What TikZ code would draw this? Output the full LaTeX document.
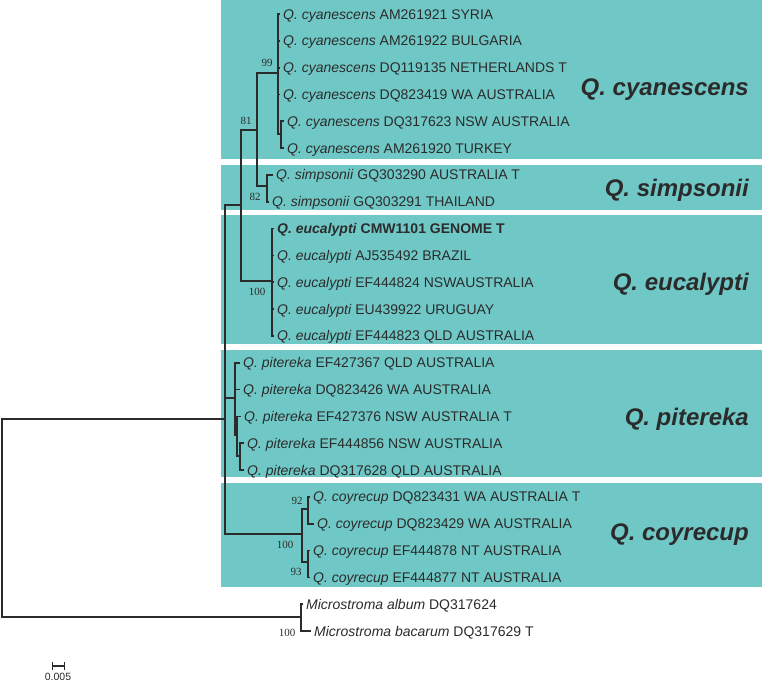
\documentclass[tikz,border=0pt]{standalone}
\usepackage{fontspec}
\setmainfont{Liberation Sans}
\newfontfamily\bootfont{Liberation Serif}
\usepackage{tikz}
\usetikzlibrary{positioning,arrows.meta}
\definecolor{cladeteal}{RGB}{112,200,198}
\definecolor{treeink}{RGB}{43,43,43}
\newcommand{\taxon}[1]{\textit{#1}}

\begin{document}
\begin{tikzpicture}[x=1pt,y=-1pt,
    branch/.style={treeink, line width=2.7pt, line cap=rect},
    twig/.style={treeink, line width=1.7pt, line cap=rect},
    leaf/.style={inner sep=0pt, text=treeink, text height=10pt, text depth=0pt, font=\fontsize{14}{16}\selectfont},
    boot/.style={inner sep=0pt, text=treeink, font=\bootfont\fontsize{11}{12}\selectfont},
    clade/.style={inner sep=0pt, anchor=east, text=treeink, text height=17pt, text depth=0pt, font=\fontsize{24}{28}\selectfont\bfseries\itshape}]
    \useasboundingbox (0,0) rectangle (763,683);
    % Clade boxes
    \fill[cladeteal] (221,0) rectangle (762,159);
    \fill[cladeteal] (221,165) rectangle (762,210);
    \fill[cladeteal] (221,215) rectangle (762,344);
    \fill[cladeteal] (221,350) rectangle (762,477);
    \fill[cladeteal] (221,483) rectangle (762,587);
    % Internal nodes
    \coordinate (root) at (2,419);
    \coordinate (ing) at (225,419);
    \coordinate (n81) at (241,205);
    \coordinate (n99) at (257,130);
    \coordinate (cyan) at (278,73);
    \coordinate (cyb) at (281,134);
    \coordinate (simp) at (267,186);
    \coordinate (euc) at (272,281);
    \coordinate (pit) at (235,398);
    \coordinate (pitb) at (237,435);
    \coordinate (pitc) at (240,456);
    \coordinate (coy) at (302,534);
    \coordinate (coya) at (308,509);
    \coordinate (coyb) at (308,562);
    \coordinate (micro) at (301,617);
    % Backbone
    \draw[branch] (root) |- (ing); \draw[branch] (root) |- (micro);
    \draw[branch] (ing) |- (n81); \draw[branch] (ing) |- (pit); \draw[branch] (ing) |- (coy);
    \draw[branch] (n81) |- (n99); \draw[branch] (n81) |- (euc);
    \draw[branch] (n99) |- (cyan); \draw[branch] (n99) |- (simp);
    \draw[twig] (cyan) |- (cyb);
    \draw[twig] (pit) |- (pitb); \draw[twig] (pitb) |- (pitc);
    \draw[branch] (coy) |- (coya); \draw[branch] (coy) |- (coyb);
    % Leaves
    \foreach \i/\pn/\tx/\lab in {
        0/cyan/279/{\taxon{Q. cyanescens} AM261921 SYRIA},
        1/cyan/279/{\taxon{Q. cyanescens} AM261922 BULGARIA},
        2/cyan/279/{\taxon{Q. cyanescens} DQ119135 NETHERLANDS T},
        3/cyan/279/{\taxon{Q. cyanescens} DQ823419 WA AUSTRALIA},
        4/cyb/283/{\taxon{Q. cyanescens} DQ317623 NSW AUSTRALIA},
        5/cyb/283/{\taxon{Q. cyanescens} AM261920 TURKEY},
        6/simp/272/{\taxon{Q. simpsonii} GQ303290 AUSTRALIA T},
        7/simp/268/{\taxon{Q. simpsonii} GQ303291 THAILAND},
        8/euc/273/{\textbf{\taxon{Q. eucalypti} CMW1101 GENOME T}},
        9/euc/273/{\taxon{Q. eucalypti} AJ535492 BRAZIL},
        10/euc/273/{\taxon{Q. eucalypti} EF444824 NSWAUSTRALIA},
        11/euc/273/{\taxon{Q. eucalypti} EU439922 URUGUAY},
        12/euc/273/{\taxon{Q. eucalypti} EF444823 QLD AUSTRALIA},
        13/pit/239/{\taxon{Q. pitereka} EF427367 QLD AUSTRALIA},
        14/pit/239/{\taxon{Q. pitereka} DQ823426 WA AUSTRALIA},
        15/pitb/240/{\taxon{Q. pitereka} EF427376 NSW AUSTRALIA T},
        16/pitc/243/{\taxon{Q. pitereka} EF444856 NSW AUSTRALIA},
        17/pitc/243/{\taxon{Q. pitereka} DQ317628 QLD AUSTRALIA},
        18/coya/309/{\taxon{Q. coyrecup} DQ823431 WA AUSTRALIA T},
        19/coya/313/{\taxon{Q. coyrecup} DQ823429 WA AUSTRALIA},
        20/coyb/309/{\taxon{Q. coyrecup} EF444878 NT AUSTRALIA},
        21/coyb/309/{\taxon{Q. coyrecup} EF444877 NT AUSTRALIA},
        22/micro/302/{\taxon{Microstroma album} DQ317624},
        23/micro/310/{\taxon{Microstroma bacarum} DQ317629 T}}
    {
        \coordinate (t\i) at ({\tx},{14+26.83*\i});
        \node[leaf, right=4pt of t\i] (l\i) {\lab};
        \draw[twig] (\pn) |- (t\i);
    }
    % Bootstrap support
    \node[boot] (s99) at (267,63) {99};
    \node[boot] (s81) at (246,121) {81};
    \node[boot] (s82) at (255,197) {82};
    \node[boot] (s100e) at (257,292) {100};
    \node[boot] (s92) at (297,501) {92};
    \node[boot] (s100c) at (285,545) {100};
    \node[boot] (s93) at (296,572) {93};
    \node[boot] (s100m) at (287,633) {100};
    % Clade names
    \node[clade] (kcyan) at (749,87) {Q. cyanescens};
    \node[clade] (ksimp) at (749,188) {Q. simpsonii};
    \node[clade] (keuc) at (749,282) {Q. eucalypti};
    \node[clade] (kpit) at (749,417) {Q. pitereka};
    \node[clade] (kcoy) at (749,532) {Q. coyrecup};
    % Scale bar
    \coordinate (sbl) at (52,666); \coordinate (sbr) at (65,666);
    \draw[treeink, line width=1.3pt, {Bar[width=8pt]}-{Bar[width=8pt]}] (sbl) -- (sbr);
    \node[inner sep=0pt, text=treeink, font=\fontsize{10.5}{12}\selectfont] (sblab) at (58,676.5) {0.005};
\end{tikzpicture}
\end{document}
